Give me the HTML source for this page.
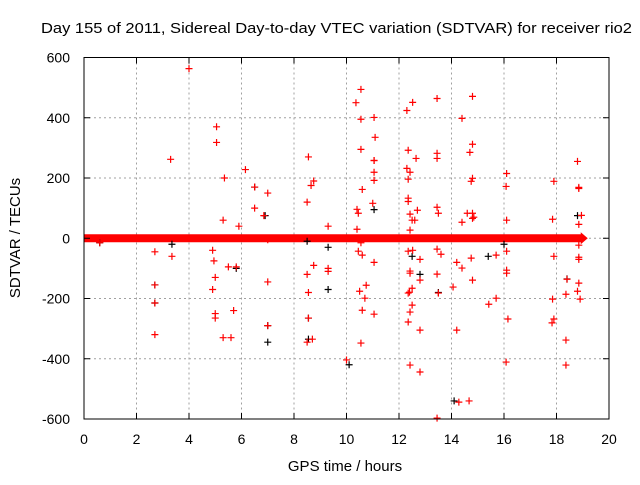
<!DOCTYPE html>
<html><head><meta charset="utf-8"><style>
body{margin:0;background:#fff}
svg text{font-family:"Liberation Sans",sans-serif;fill:#000}
</style></head><body>
<svg id="chart" width="640" height="480" xmlns="http://www.w3.org/2000/svg">
<rect width="640" height="480" fill="#fff"/>
<text x="41" y="33" font-size="14.5" textLength="591" lengthAdjust="spacingAndGlyphs">Day 155 of 2011, Sidereal Day-to-day VTEC variation (SDTVAR) for receiver rio2</text>
<g id="grid"></g>
<g id="band"></g>
<g id="blackPts"></g>
<g id="redPts"></g>
<rect x="84" y="57.5" width="525" height="361.5" fill="none" stroke="#000" stroke-width="1"/>
<g id="ticks"></g>
<text x="345" y="471" font-size="15" text-anchor="middle">GPS time / hours</text>
<text x="20" y="238" font-size="15" text-anchor="middle" transform="rotate(-90 20 238)">SDTVAR / TECUs</text>
</svg>
<script>
const xTicks=[0,2,4,6,8,10,12,14,16,18,20];
const yTicks=[-600,-400,-200,0,200,400,600];
const bandX=[0,2,4,6,8,10,12,14,16,18,19];
const bandY=[0,0,0,0,0,0,0,0,0,0,0];
const redX=[4.0,5.05,5.05,3.3,6.15,5.35,6.5,7.0,5.3,5.9,6.5,6.85,2.7,3.35,2.7,2.7,2.7,5.0,5.0,5.0,5.3,5.6,5.8,5.7,7.0,7.0,7.0,8.5,8.55,8.65,8.75,8.5,8.5,8.55,8.55,8.7,8.75,9.3,9.3,9.3,4.9,4.9,4.95,5.5,0.6,
10.55,10.55,10.36,11.05,10.55,11.09,10.55,11.05,11.05,11.05,11.05,10.6,11.0,10.4,10.45,10.4,10.6,11.05,10.45,10.75,10.5,10.7,11.05,10.6,10.55,10.0,
12.42,12.52,12.3,12.35,12.65,12.3,12.42,12.35,12.35,12.35,12.7,12.42,12.6,12.5,12.42,12.52,12.35,12.8,12.42,12.42,12.8,12.5,12.4,12.35,12.5,12.42,12.35,12.8,12.8,
13.45,13.45,13.45,13.45,13.45,13.5,13.45,13.6,13.45,13.5,14.2,14.4,14.6,14.4,14.2,14.4,14.06,14.28,
14.67,14.8,14.8,14.7,14.8,14.75,14.8,14.8,14.85,14.75,14.8,15.42,15.7,15.7,
16.08,16.1,16.08,16.1,16.1,16.1,16.1,16.15,17.83,17.9,17.85,17.9,17.85,17.9,18.36,18.4,18.36,18.36,
18.85,18.8,18.85,18.85,18.95,18.85,18.85,18.85,18.85,18.8,18.9];
const redY=[563,370,318,262,228,200,170,150,60,40,100,75,-45,-60,-155,-215,-320,-130,-250,-265,-330,-330,-95,-240,-5,-145,-290,-345,270,175,190,120,-120,-180,-265,-335,-90,-100,40,-110,-170,-40,-75,-95,-15,-15,
494,450,401,395,335,295,258,258,219,192,162,116,96,83,30,-56,-80,-43,-156,-176,-199,-252,-239,-348,-404,-421,
451,424,292,265,232,219,196,133,122,93,80,60,60,27,-40,-43,-70,-116,-109,-139,-166,-179,-182,-222,-245,-278,-305,-444,-597,
464,282,265,103,83,-36,-53,-119,-182,-305,398,83,53,-80,-99,-162,-544,-540,
471,312,285,199,189,83,66,70,-66,-139,-219,-56,-199,-411,
215,172,60,-43,-106,-116,-268,-281,189,63,-60,-202,-268,-421,-136,-186,-338,-23,
255,169,165,76,46,-63,-70,-149,-176,-202,-564];
const blackX=[0.6,2.7,2.7,6.5,6.9,7.0,7.0,8.55,8.55,9.3,10.1,11.05,12.5,12.8,13.5,14.1,15.4,16.0,18.4,18.8,3.35,5.8,8.5,9.3];
const blackY=[-15,-155,-215,170,75,-290,-345,-265,-335,-170,-420,95,-60,-120,-180,-540,-60,-20,-135,75,-20,-100,-10,-30];
const NS="http://www.w3.org/2000/svg";
const X0=84,X1=609,Y0=419,Y1=57.5;
function sx(v){return X0+(v-0)/(20-0)*(X1-X0);}
function sy(v){return Y0-(v+600)/1200*(Y0-Y1);}
function mk(tag,attrs,parent){const e=document.createElementNS(NS,tag);for(const k in attrs)e.setAttribute(k,attrs[k]);parent.appendChild(e);return e;}
const grid=document.getElementById('grid'),ticks=document.getElementById('ticks');
xTicks.forEach(t=>{
  const x=sx(t);
  if(t>0&&t<20){const g=mk('line',{x1:x,x2:x,y1:Y1,y2:Y0,stroke:'#a0a0a0','stroke-dasharray':'2,3'},grid);
  
  }
  mk('line',{x1:x,x2:x,y1:Y0,y2:Y0-6,stroke:'#000'},ticks);
  mk('line',{x1:x,x2:x,y1:Y1,y2:Y1+6,stroke:'#000'},ticks);
  const tx=mk('text',{x:x,y:444,'font-size':14,'text-anchor':'middle'},ticks);
  
  
  tx.textContent=t;
});
yTicks.forEach(t=>{
  const y=sy(t);
  if(t>-600&&t<600){const g=mk('line',{x1:X0,x2:X1,y1:y,y2:y,stroke:'#a0a0a0','stroke-dasharray':'2,3'},grid);
  
  }
  mk('line',{x1:X0,x2:X0+6,y1:y,y2:y,stroke:'#000'},ticks);
  mk('line',{x1:X1,x2:X1-6,y1:y,y2:y,stroke:'#000'},ticks);
  const tx=mk('text',{x:70,y:y+5,'font-size':14,'text-anchor':'end'},ticks);
  
  
  tx.textContent=t;
});
const band=document.getElementById('band');
const bl=mk('polyline',{points:bandX.map((v,i)=>sx(v)+','+sy(bandY[i])).join(' '),fill:'none',stroke:'#f00','stroke-width':8},band);


mk('path',{d:`M${sx(19)-2},${sy(0)-6}L${sx(19)+5},${sy(0)}L${sx(19)-2},${sy(0)+6}Z`,fill:'#f00'},band);
function plus(g,x,y,c,name){
  const p=mk('path',{d:`M${x-3.5},${y}h7M${x},${y-3.5}v7`,stroke:c,'stroke-width':1.2,fill:'none'},g);
  
  
}
const bg=document.getElementById('blackPts');
blackX.forEach((v,i)=>plus(bg,sx(v),sy(blackY[i]),'#000','black-point'));
const rg=document.getElementById('redPts');
redX.forEach((v,i)=>plus(rg,sx(v),sy(redY[i]),'#f00','red-point'));
</script>
</body></html>
